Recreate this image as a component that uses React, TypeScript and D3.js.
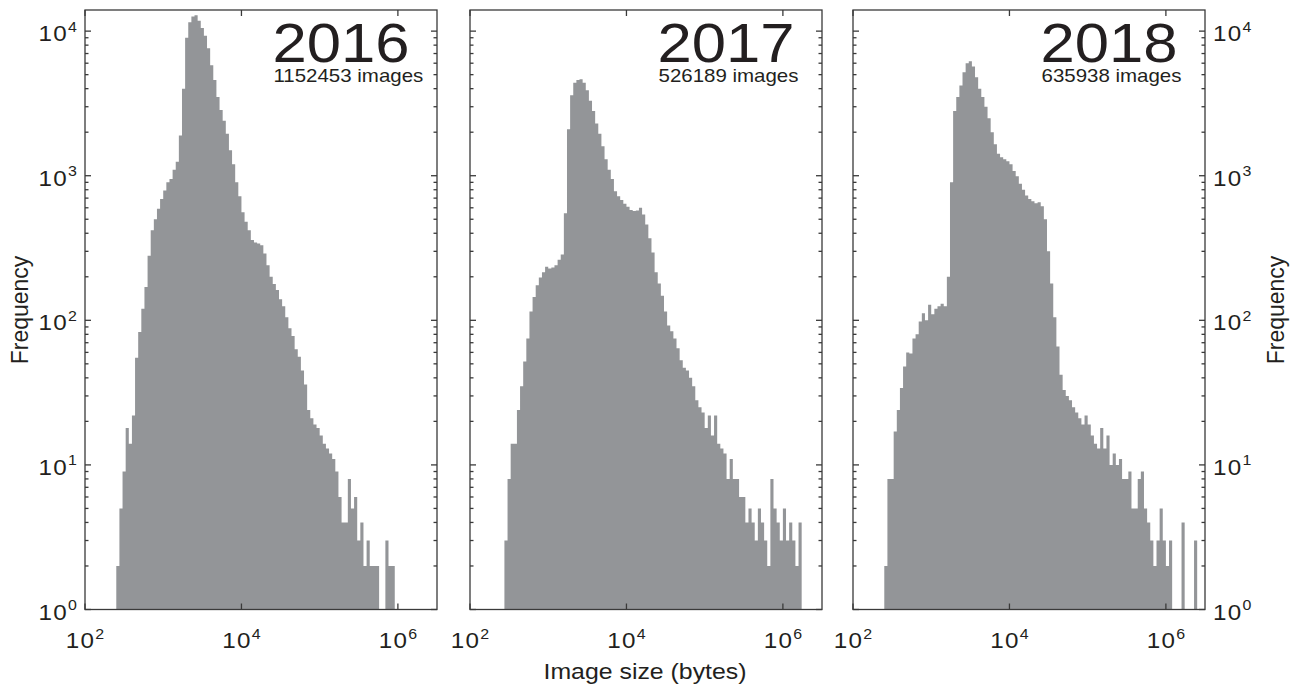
import React from 'react';
import * as d3 from 'd3';

// Histograms of image file sizes, one panel per year.
const YEARS = ['2016', '2017', '2018'];
const IMAGE_TOTALS = [1152453, 526189, 635938];

// Log-spaced bins: bin k spans 10^(BIN_LOG_START + k*BIN_LOG_WIDTH) .. 10^(BIN_LOG_START + (k+1)*BIN_LOG_WIDTH) bytes
const BIN_LOG_START = 2.4;
const BIN_LOG_WIDTH = 0.04;

const COUNTS_2016 = [
  2, 5, 9, 18, 14, 22, 55, 83, 120, 170,
  280, 420, 500, 590, 690, 790, 900, 950, 1100, 1250,
  1900, 4000, 9000, 11500, 12600, 12900, 11800, 10500, 9300, 7600,
  5800, 4600, 3500, 2850, 2400, 1950, 1500, 1200, 900, 720,
  560, 480, 420, 360, 345, 340, 330, 290, 240, 200,
  178, 162, 140, 125, 105, 88, 78, 63, 56, 45,
  36, 24, 21, 19, 18, 16, 14, 13, 12, 11,
  9, 6, 4, 4, 8, 5, 6, 3, 4, 2,
  3, 2, 2, 2, 1, 1, 3, 2, 2,
];

const COUNTS_2017 = [
  0, 3, 8, 14, 14, 24, 35, 52, 75, 115,
  145, 175, 198, 215, 235, 228, 232, 240, 262, 285,
  550, 2100, 3600, 4400, 4600, 4650, 4400, 3900, 3300, 2800,
  2300, 1950, 1600, 1300, 1100, 950, 780, 720, 680, 640,
  610, 580, 570, 575, 600, 540, 460, 370, 295, 215,
  180, 148, 115, 92, 84, 75, 64, 53, 47, 45,
  40, 35, 28, 25, 23, 18, 22, 16, 22, 14,
  13, 12, 8, 11, 8, 8, 6, 6, 4, 5,
  4, 3, 5, 4, 3, 2, 8, 5, 4, 3,
  5, 3, 4, 3, 2, 4,
];

const COUNTS_2018 = [
  2, 8, 8, 17, 24, 34, 48, 60, 59, 75,
  80, 98, 112, 100, 128, 110, 120, 125, 130, 125,
  200, 900, 2800, 3500, 4200, 5200, 6000, 6200, 5700, 4800,
  4000, 3500, 3000, 2500, 2000, 1650, 1420, 1340, 1300, 1260,
  1200, 1080, 990, 880, 800, 730, 690, 665, 645, 655,
  615, 500, 300, 180, 105, 66, 42, 33, 30, 28,
  25, 23, 21, 19, 22, 19, 16, 14, 13, 18,
  13, 16, 10, 12, 10, 11, 8, 8, 9, 5,
  5, 8, 9, 5, 4, 3, 2, 3, 5, 3,
  2, 3, 0, 0, 0, 4, 0, 0, 0, 3,
];

const SERIES = [COUNTS_2016, COUNTS_2017, COUNTS_2018];

const X_DOMAIN: [number, number] = [1e2, Math.pow(10, 6.5)];
const Y_DOMAIN: [number, number] = [1, 14000];
const X_TICK_EXPONENTS = [2, 4, 6];
const Y_TICK_EXPONENTS = [0, 1, 2, 3, 4];

const WIDTH = 1297;
const HEIGHT = 691;
const PANEL_LEFTS = [85, 470, 853];
const PANEL_W = 352;
const TOP = 10;
const BOTTOM = 609.5;

const BAR_COLOR = '#939598';
const AXIS_COLOR = '#3a3a3a';
const TEXT_COLOR = '#231f20';
const FONT = '"Liberation Sans", Arial, Helvetica, sans-serif';
const SX = 1.1; // horizontal widening of type

const MAJOR_LEN = 6;
const MINOR_LEN = 3.5;

function WideText(props: {
  x: number; y: number; anchor?: 'start' | 'middle' | 'end'; size: number;
  spacing?: number; children: React.ReactNode;
}) {
  const { x, y, anchor = 'start', size, spacing = 0, children } = props;
  return (
    <text
      transform={`translate(${x},${y}) scale(${SX},1)`}
      textAnchor={anchor}
      fontSize={size}
      fontFamily={FONT}
      fill={TEXT_COLOR}
      letterSpacing={spacing}
    >
      {children}
    </text>
  );
}

function PowerLabel(props: { x: number; y: number; exp: number; anchor: 'start' | 'middle' | 'end' }) {
  return (
    <WideText x={props.x} y={props.y} anchor={props.anchor} size={22} spacing={1.2}>
      10
      <tspan dy={-9.5} fontSize={14.5} letterSpacing={0}>{props.exp}</tspan>
    </WideText>
  );
}

// One outline path for the whole histogram: bars that touch share edges, so
// the fill has no seams between neighbouring bins.
function histogramPath(
  counts: number[],
  x: d3.ScaleLogarithmic<number, number>,
  y: d3.ScaleLogarithmic<number, number>,
): string {
  const p = d3.path();
  const base = y(1);
  let open = false;
  let lastX = 0;
  counts.forEach((c, k) => {
    const x0 = x(Math.pow(10, BIN_LOG_START + k * BIN_LOG_WIDTH));
    const x1 = x(Math.pow(10, BIN_LOG_START + (k + 1) * BIN_LOG_WIDTH));
    if (c > 1) {
      const top = y(c);
      if (!open) {
        p.moveTo(x0, base);
        open = true;
      }
      p.lineTo(x0, top);
      p.lineTo(x1, top);
      lastX = x1;
    } else if (open) {
      p.lineTo(lastX, base);
      p.closePath();
      open = false;
    }
  });
  if (open) {
    p.lineTo(lastX, base);
    p.closePath();
  }
  return p.toString();
}

function Panel(props: { index: number }) {
  const { index } = props;
  const left = PANEL_LEFTS[index];
  const right = left + PANEL_W;
  const counts = SERIES[index];
  const x = d3.scaleLog().domain(X_DOMAIN).range([left, right]);
  const y = d3.scaleLog().domain(Y_DOMAIN).range([BOTTOM, TOP]);

  const minorY: number[] = [];
  Y_TICK_EXPONENTS.forEach((e) => {
    for (let m = 2; m <= 9; m++) {
      const v = m * Math.pow(10, e);
      if (v < Y_DOMAIN[1]) minorY.push(v);
    }
  });

  return (
    <g>
      <path d={histogramPath(counts, x, y)} fill={BAR_COLOR} />
      <g stroke={AXIS_COLOR} strokeWidth={1.3} fill="none">
        {Y_TICK_EXPONENTS.map((e) => {
          const ty = y(Math.pow(10, e));
          return (
            <g key={'my' + e}>
              <line x1={left} x2={left + MAJOR_LEN} y1={ty} y2={ty} />
              <line x1={right - MAJOR_LEN} x2={right} y1={ty} y2={ty} />
            </g>
          );
        })}
        {minorY.map((v) => {
          const ty = y(v);
          return (
            <g key={'ny' + v}>
              <line x1={left} x2={left + MINOR_LEN} y1={ty} y2={ty} />
              <line x1={right - MINOR_LEN} x2={right} y1={ty} y2={ty} />
            </g>
          );
        })}
        {X_TICK_EXPONENTS.map((e) => {
          const tx = x(Math.pow(10, e));
          return (
            <g key={'mx' + e}>
              <line x1={tx} x2={tx} y1={BOTTOM} y2={BOTTOM - MAJOR_LEN} />
              <line x1={tx} x2={tx} y1={TOP} y2={TOP + MAJOR_LEN} />
            </g>
          );
        })}
        <rect x={left} y={TOP} width={PANEL_W} height={BOTTOM - TOP} />
      </g>
      {X_TICK_EXPONENTS.map((e) => (
        <PowerLabel key={'lx' + e} x={x(Math.pow(10, e))} y={648} exp={e} anchor="middle" />
      ))}
      {index === 0 &&
        Y_TICK_EXPONENTS.map((e) => (
          <PowerLabel key={'ly' + e} x={left - 8} y={y(Math.pow(10, e)) + 10} exp={e} anchor="end" />
        ))}
      {index === SERIES.length - 1 &&
        Y_TICK_EXPONENTS.map((e) => (
          <PowerLabel key={'ry' + e} x={right + 8} y={y(Math.pow(10, e)) + 10} exp={e} anchor="start" />
        ))}
      <WideText x={left + 187.5} y={62} size={56}>{YEARS[index]}</WideText>
      <WideText x={left + 188.5} y={81.5} size={18.6}>{`${IMAGE_TOTALS[index]} images`}</WideText>
    </g>
  );
}

export default function App() {
  return (
    <svg
      width={WIDTH}
      height={HEIGHT}
      viewBox={`0 0 ${WIDTH} ${HEIGHT}`}
      style={{ position: 'absolute', left: 0, top: 0, display: 'block', background: '#fff' }}
    >
      <rect width={WIDTH} height={HEIGHT} fill="#fff" />
      {YEARS.map((_, i) => (
        <Panel key={i} index={i} />
      ))}
      <WideText x={645} y={679} anchor="middle" size={22.6}>Image size (bytes)</WideText>
      <text
        transform="translate(28,310) rotate(-90)"
        textAnchor="middle"
        fontSize={23}
        fontFamily={FONT}
        fill={TEXT_COLOR}
      >
        Frequency
      </text>
      <text
        transform="translate(1284,310) rotate(-90)"
        textAnchor="middle"
        fontSize={23}
        fontFamily={FONT}
        fill={TEXT_COLOR}
      >
        Frequency
      </text>
    </svg>
  );
}
